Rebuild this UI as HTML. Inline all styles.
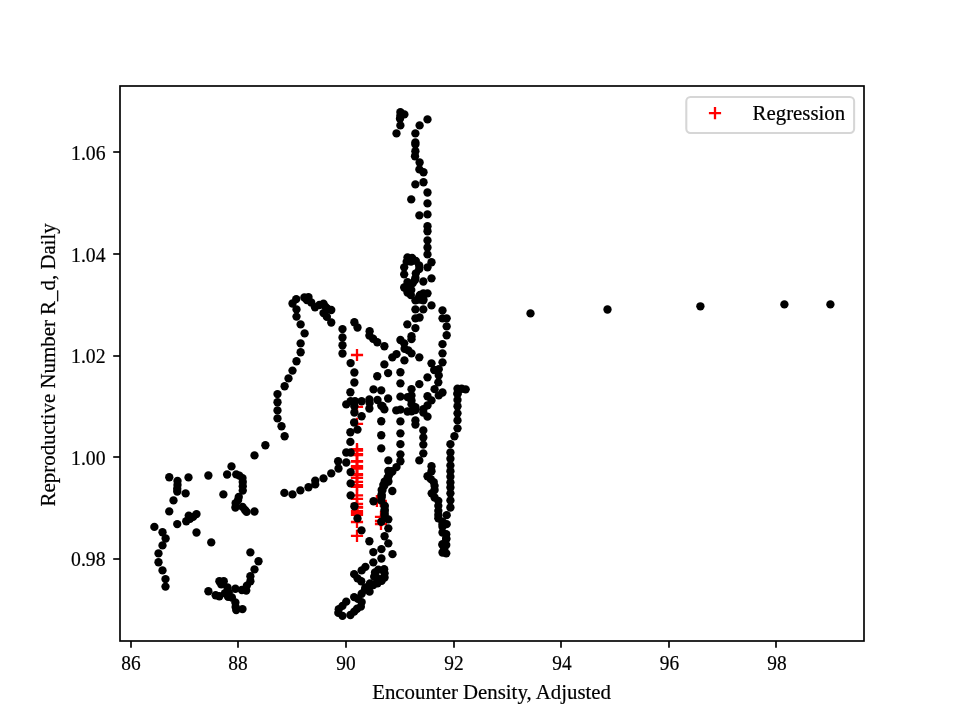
<!DOCTYPE html>
<html lang="en"><head><meta charset="utf-8"><title>Regression</title>
<style>
html,body{margin:0;padding:0;background:#fff;}
body{width:960px;height:720px;overflow:hidden;}
svg{display:block;}
text{font-family:"Liberation Serif","DejaVu Serif",serif;font-size:20.83px;fill:#000;stroke:#000;stroke-width:0.2px;}
</style></head><body>
<svg width="960" height="720" viewBox="0 0 960 720">
<rect x="0" y="0" width="960" height="720" fill="#fff"/>

<g id="reg" stroke="#f00" stroke-width="2.3" fill="none">
<path d="M350.90 355.00h12.2M357.00 348.90v12.2"/>
<path d="M350.90 406.90h12.2M357.00 400.80v12.2"/>
<path d="M350.90 423.90h12.2M357.00 417.80v12.2"/>
<path d="M350.90 449.10h12.2M357.00 443.00v12.2"/>
<path d="M350.90 450.70h12.2M357.00 444.60v12.2"/>
<path d="M350.90 454.20h12.2M357.00 448.10v12.2"/>
<path d="M350.90 455.00h12.2M357.00 448.90v12.2"/>
<path d="M350.90 461.10h12.2M357.00 455.00v12.2"/>
<path d="M350.90 461.70h12.2M357.00 455.60v12.2"/>
<path d="M350.90 466.05h12.2M357.00 459.95v12.2"/>
<path d="M350.90 467.40h12.2M357.00 461.30v12.2"/>
<path d="M350.90 468.70h12.2M357.00 462.60v12.2"/>
<path d="M350.90 474.10h12.2M357.00 468.00v12.2"/>
<path d="M350.90 475.20h12.2M357.00 469.10v12.2"/>
<path d="M350.90 477.90h12.2M357.00 471.80v12.2"/>
<path d="M350.90 481.90h12.2M357.00 475.80v12.2"/>
<path d="M350.90 485.10h12.2M357.00 479.00v12.2"/>
<path d="M350.90 486.80h12.2M357.00 480.70v12.2"/>
<path d="M350.90 495.30h12.2M357.00 489.20v12.2"/>
<path d="M350.90 498.90h12.2M357.00 492.80v12.2"/>
<path d="M350.90 503.85h12.2M357.00 497.75v12.2"/>
<path d="M350.90 507.00h12.2M357.00 500.90v12.2"/>
<path d="M350.90 507.70h12.2M357.00 501.60v12.2"/>
<path d="M350.90 511.05h12.2M357.00 504.95v12.2"/>
<path d="M350.90 513.00h12.2M357.00 506.90v12.2"/>
<path d="M350.90 514.90h12.2M357.00 508.80v12.2"/>
<path d="M350.90 522.00h12.2M357.00 515.90v12.2"/>
<path d="M350.90 535.90h12.2M357.00 529.80v12.2"/>
<path d="M370.80 501.00h12.2M376.90 494.90v12.2"/>
<path d="M374.70 501.00h12.2M380.80 494.90v12.2"/>
<path d="M374.90 516.90h12.2M381.00 510.80v12.2"/>
<path d="M374.90 521.00h12.2M381.00 514.90v12.2"/>
<path d="M374.90 524.00h12.2M381.00 517.90v12.2"/>
</g>
<g id="pts" fill="#000">
<circle cx="265.38" cy="445.25" r="4.17"/>
<circle cx="254.50" cy="455.38" r="4.17"/>
<circle cx="231.50" cy="466.38" r="4.17"/>
<circle cx="227.12" cy="474.50" r="4.17"/>
<circle cx="208.38" cy="475.50" r="4.17"/>
<circle cx="169.25" cy="477.25" r="4.17"/>
<circle cx="188.50" cy="477.38" r="4.17"/>
<circle cx="177.50" cy="481.00" r="4.17"/>
<circle cx="177.50" cy="485.00" r="4.17"/>
<circle cx="177.25" cy="488.75" r="4.17"/>
<circle cx="177.25" cy="491.50" r="4.17"/>
<circle cx="185.62" cy="493.38" r="4.17"/>
<circle cx="173.50" cy="500.38" r="4.17"/>
<circle cx="169.25" cy="511.38" r="4.17"/>
<circle cx="223.38" cy="494.38" r="4.17"/>
<circle cx="236.25" cy="474.38" r="4.17"/>
<circle cx="239.38" cy="475.62" r="4.17"/>
<circle cx="242.50" cy="478.12" r="4.17"/>
<circle cx="242.75" cy="481.88" r="4.17"/>
<circle cx="242.75" cy="486.25" r="4.17"/>
<circle cx="242.75" cy="490.62" r="4.17"/>
<circle cx="238.75" cy="496.88" r="4.17"/>
<circle cx="238.12" cy="500.00" r="4.17"/>
<circle cx="235.62" cy="503.12" r="4.17"/>
<circle cx="235.38" cy="507.50" r="4.17"/>
<circle cx="242.50" cy="506.88" r="4.17"/>
<circle cx="245.00" cy="510.00" r="4.17"/>
<circle cx="246.62" cy="511.88" r="4.17"/>
<circle cx="254.50" cy="511.50" r="4.17"/>
<circle cx="196.50" cy="514.12" r="4.17"/>
<circle cx="193.12" cy="516.88" r="4.17"/>
<circle cx="188.75" cy="515.62" r="4.17"/>
<circle cx="190.00" cy="518.75" r="4.17"/>
<circle cx="186.25" cy="521.25" r="4.17"/>
<circle cx="177.25" cy="524.12" r="4.17"/>
<circle cx="154.38" cy="526.88" r="4.17"/>
<circle cx="162.50" cy="532.25" r="4.17"/>
<circle cx="165.62" cy="538.50" r="4.17"/>
<circle cx="162.50" cy="545.38" r="4.17"/>
<circle cx="158.50" cy="553.38" r="4.17"/>
<circle cx="158.50" cy="562.25" r="4.17"/>
<circle cx="162.50" cy="570.38" r="4.17"/>
<circle cx="165.50" cy="579.12" r="4.17"/>
<circle cx="165.50" cy="586.62" r="4.17"/>
<circle cx="196.50" cy="532.50" r="4.17"/>
<circle cx="211.25" cy="542.38" r="4.17"/>
<circle cx="250.38" cy="552.38" r="4.17"/>
<circle cx="258.50" cy="561.25" r="4.17"/>
<circle cx="254.50" cy="569.38" r="4.17"/>
<circle cx="250.38" cy="576.25" r="4.17"/>
<circle cx="250.38" cy="581.25" r="4.17"/>
<circle cx="246.88" cy="585.62" r="4.17"/>
<circle cx="246.25" cy="590.62" r="4.17"/>
<circle cx="241.88" cy="590.00" r="4.17"/>
<circle cx="235.38" cy="588.75" r="4.17"/>
<circle cx="219.38" cy="581.25" r="4.17"/>
<circle cx="223.75" cy="581.25" r="4.17"/>
<circle cx="221.25" cy="584.38" r="4.17"/>
<circle cx="227.50" cy="587.50" r="4.17"/>
<circle cx="208.38" cy="591.25" r="4.17"/>
<circle cx="215.62" cy="595.25" r="4.17"/>
<circle cx="219.38" cy="596.25" r="4.17"/>
<circle cx="225.00" cy="593.12" r="4.17"/>
<circle cx="228.75" cy="592.50" r="4.17"/>
<circle cx="228.12" cy="596.88" r="4.17"/>
<circle cx="231.88" cy="597.50" r="4.17"/>
<circle cx="235.38" cy="602.50" r="4.17"/>
<circle cx="235.62" cy="606.88" r="4.17"/>
<circle cx="236.25" cy="610.00" r="4.17"/>
<circle cx="242.50" cy="609.12" r="4.17"/>
<circle cx="292.50" cy="303.50" r="4.17"/>
<circle cx="296.25" cy="299.12" r="4.17"/>
<circle cx="296.50" cy="309.38" r="4.17"/>
<circle cx="296.50" cy="316.62" r="4.17"/>
<circle cx="300.62" cy="324.38" r="4.17"/>
<circle cx="304.62" cy="333.38" r="4.17"/>
<circle cx="300.62" cy="343.38" r="4.17"/>
<circle cx="300.62" cy="352.25" r="4.17"/>
<circle cx="296.50" cy="361.25" r="4.17"/>
<circle cx="292.50" cy="370.62" r="4.17"/>
<circle cx="304.38" cy="297.50" r="4.17"/>
<circle cx="308.50" cy="297.12" r="4.17"/>
<circle cx="306.88" cy="300.00" r="4.17"/>
<circle cx="311.25" cy="302.50" r="4.17"/>
<circle cx="315.00" cy="307.25" r="4.17"/>
<circle cx="319.38" cy="305.00" r="4.17"/>
<circle cx="323.50" cy="303.75" r="4.17"/>
<circle cx="325.62" cy="306.88" r="4.17"/>
<circle cx="327.75" cy="309.00" r="4.17"/>
<circle cx="331.25" cy="310.00" r="4.17"/>
<circle cx="323.50" cy="313.12" r="4.17"/>
<circle cx="326.88" cy="316.88" r="4.17"/>
<circle cx="331.25" cy="322.50" r="4.17"/>
<circle cx="342.50" cy="329.12" r="4.17"/>
<circle cx="342.50" cy="337.50" r="4.17"/>
<circle cx="342.50" cy="345.25" r="4.17"/>
<circle cx="342.50" cy="353.50" r="4.17"/>
<circle cx="354.38" cy="322.25" r="4.17"/>
<circle cx="357.50" cy="327.50" r="4.17"/>
<circle cx="369.62" cy="331.25" r="4.17"/>
<circle cx="369.38" cy="335.62" r="4.17"/>
<circle cx="373.12" cy="338.75" r="4.17"/>
<circle cx="377.25" cy="342.25" r="4.17"/>
<circle cx="384.38" cy="346.25" r="4.17"/>
<circle cx="350.62" cy="363.12" r="4.17"/>
<circle cx="384.38" cy="364.38" r="4.17"/>
<circle cx="288.50" cy="378.38" r="4.17"/>
<circle cx="284.62" cy="386.25" r="4.17"/>
<circle cx="277.50" cy="394.12" r="4.17"/>
<circle cx="277.50" cy="402.25" r="4.17"/>
<circle cx="277.50" cy="410.38" r="4.17"/>
<circle cx="277.50" cy="418.38" r="4.17"/>
<circle cx="281.50" cy="426.25" r="4.17"/>
<circle cx="284.62" cy="436.25" r="4.17"/>
<circle cx="354.38" cy="372.50" r="4.17"/>
<circle cx="354.38" cy="382.50" r="4.17"/>
<circle cx="350.38" cy="392.25" r="4.17"/>
<circle cx="346.25" cy="404.38" r="4.17"/>
<circle cx="350.62" cy="401.25" r="4.17"/>
<circle cx="355.00" cy="401.25" r="4.17"/>
<circle cx="361.62" cy="401.25" r="4.17"/>
<circle cx="369.38" cy="399.38" r="4.17"/>
<circle cx="369.62" cy="403.12" r="4.17"/>
<circle cx="369.38" cy="408.50" r="4.17"/>
<circle cx="354.38" cy="406.25" r="4.17"/>
<circle cx="354.38" cy="412.50" r="4.17"/>
<circle cx="361.62" cy="416.25" r="4.17"/>
<circle cx="354.12" cy="422.50" r="4.17"/>
<circle cx="357.50" cy="429.62" r="4.17"/>
<circle cx="350.38" cy="432.25" r="4.17"/>
<circle cx="350.38" cy="441.88" r="4.17"/>
<circle cx="346.25" cy="452.50" r="4.17"/>
<circle cx="350.62" cy="452.50" r="4.17"/>
<circle cx="377.25" cy="376.25" r="4.17"/>
<circle cx="388.12" cy="373.12" r="4.17"/>
<circle cx="373.50" cy="389.38" r="4.17"/>
<circle cx="381.25" cy="390.38" r="4.17"/>
<circle cx="377.50" cy="400.00" r="4.17"/>
<circle cx="388.12" cy="398.50" r="4.17"/>
<circle cx="381.25" cy="405.62" r="4.17"/>
<circle cx="384.38" cy="409.38" r="4.17"/>
<circle cx="381.25" cy="421.25" r="4.17"/>
<circle cx="381.25" cy="435.25" r="4.17"/>
<circle cx="381.25" cy="448.38" r="4.17"/>
<circle cx="284.38" cy="492.88" r="4.17"/>
<circle cx="292.50" cy="494.38" r="4.17"/>
<circle cx="300.38" cy="490.38" r="4.17"/>
<circle cx="308.50" cy="487.25" r="4.17"/>
<circle cx="315.25" cy="484.38" r="4.17"/>
<circle cx="315.25" cy="480.62" r="4.17"/>
<circle cx="323.50" cy="478.38" r="4.17"/>
<circle cx="331.25" cy="473.38" r="4.17"/>
<circle cx="338.50" cy="468.50" r="4.17"/>
<circle cx="338.12" cy="461.25" r="4.17"/>
<circle cx="346.25" cy="462.50" r="4.17"/>
<circle cx="350.62" cy="472.12" r="4.17"/>
<circle cx="350.62" cy="483.38" r="4.17"/>
<circle cx="350.62" cy="495.38" r="4.17"/>
<circle cx="354.38" cy="506.25" r="4.17"/>
<circle cx="357.50" cy="518.38" r="4.17"/>
<circle cx="361.50" cy="530.38" r="4.17"/>
<circle cx="369.38" cy="541.25" r="4.17"/>
<circle cx="373.50" cy="501.25" r="4.17"/>
<circle cx="373.33" cy="552.08" r="4.17"/>
<circle cx="381.42" cy="549.17" r="4.17"/>
<circle cx="392.50" cy="554.17" r="4.17"/>
<circle cx="381.42" cy="558.50" r="4.17"/>
<circle cx="373.33" cy="562.33" r="4.17"/>
<circle cx="365.42" cy="566.83" r="4.17"/>
<circle cx="361.67" cy="570.42" r="4.17"/>
<circle cx="354.17" cy="574.17" r="4.17"/>
<circle cx="357.50" cy="578.33" r="4.17"/>
<circle cx="361.25" cy="581.25" r="4.17"/>
<circle cx="375.00" cy="572.50" r="4.17"/>
<circle cx="378.33" cy="569.58" r="4.17"/>
<circle cx="384.17" cy="569.17" r="4.17"/>
<circle cx="384.58" cy="573.33" r="4.17"/>
<circle cx="384.58" cy="577.50" r="4.17"/>
<circle cx="381.67" cy="580.83" r="4.17"/>
<circle cx="377.50" cy="583.33" r="4.17"/>
<circle cx="373.33" cy="585.00" r="4.17"/>
<circle cx="370.00" cy="583.33" r="4.17"/>
<circle cx="374.17" cy="576.67" r="4.17"/>
<circle cx="368.33" cy="588.33" r="4.17"/>
<circle cx="365.42" cy="587.50" r="4.17"/>
<circle cx="369.58" cy="591.67" r="4.17"/>
<circle cx="361.67" cy="593.75" r="4.17"/>
<circle cx="354.17" cy="597.08" r="4.17"/>
<circle cx="365.00" cy="589.58" r="4.17"/>
<circle cx="361.67" cy="602.08" r="4.17"/>
<circle cx="360.83" cy="606.67" r="4.17"/>
<circle cx="357.08" cy="608.75" r="4.17"/>
<circle cx="354.17" cy="611.67" r="4.17"/>
<circle cx="350.42" cy="615.00" r="4.17"/>
<circle cx="346.25" cy="601.67" r="4.17"/>
<circle cx="342.50" cy="605.83" r="4.17"/>
<circle cx="338.75" cy="609.17" r="4.17"/>
<circle cx="338.33" cy="612.92" r="4.17"/>
<circle cx="342.50" cy="615.83" r="4.17"/>
<circle cx="400.38" cy="112.12" r="4.17"/>
<circle cx="404.38" cy="114.38" r="4.17"/>
<circle cx="400.38" cy="115.62" r="4.17"/>
<circle cx="400.00" cy="118.75" r="4.17"/>
<circle cx="400.38" cy="125.38" r="4.17"/>
<circle cx="396.50" cy="133.38" r="4.17"/>
<circle cx="427.50" cy="119.38" r="4.17"/>
<circle cx="419.62" cy="125.38" r="4.17"/>
<circle cx="415.38" cy="133.38" r="4.17"/>
<circle cx="415.38" cy="142.50" r="4.17"/>
<circle cx="415.38" cy="144.38" r="4.17"/>
<circle cx="415.38" cy="151.25" r="4.17"/>
<circle cx="415.00" cy="156.25" r="4.17"/>
<circle cx="419.62" cy="162.50" r="4.17"/>
<circle cx="419.38" cy="169.38" r="4.17"/>
<circle cx="423.50" cy="172.25" r="4.17"/>
<circle cx="423.50" cy="182.25" r="4.17"/>
<circle cx="415.38" cy="184.38" r="4.17"/>
<circle cx="427.50" cy="192.50" r="4.17"/>
<circle cx="411.25" cy="199.38" r="4.17"/>
<circle cx="427.50" cy="203.38" r="4.17"/>
<circle cx="419.38" cy="215.38" r="4.17"/>
<circle cx="427.50" cy="214.38" r="4.17"/>
<circle cx="427.50" cy="226.25" r="4.17"/>
<circle cx="427.50" cy="231.25" r="4.17"/>
<circle cx="427.50" cy="240.38" r="4.17"/>
<circle cx="427.50" cy="247.50" r="4.17"/>
<circle cx="427.50" cy="254.38" r="4.17"/>
<circle cx="431.50" cy="262.25" r="4.17"/>
<circle cx="427.50" cy="267.33" r="4.17"/>
<circle cx="407.50" cy="257.33" r="4.17"/>
<circle cx="412.08" cy="257.92" r="4.17"/>
<circle cx="415.83" cy="260.83" r="4.17"/>
<circle cx="419.17" cy="265.42" r="4.17"/>
<circle cx="419.17" cy="269.17" r="4.17"/>
<circle cx="415.83" cy="273.33" r="4.17"/>
<circle cx="415.42" cy="277.92" r="4.17"/>
<circle cx="415.00" cy="280.00" r="4.17"/>
<circle cx="406.67" cy="261.67" r="4.17"/>
<circle cx="404.17" cy="267.33" r="4.17"/>
<circle cx="404.17" cy="274.33" r="4.17"/>
<circle cx="423.33" cy="281.50" r="4.17"/>
<circle cx="431.50" cy="278.33" r="4.17"/>
<circle cx="407.50" cy="282.08" r="4.17"/>
<circle cx="404.17" cy="287.50" r="4.17"/>
<circle cx="407.92" cy="286.67" r="4.17"/>
<circle cx="407.50" cy="292.50" r="4.17"/>
<circle cx="410.83" cy="295.00" r="4.17"/>
<circle cx="411.25" cy="290.00" r="4.17"/>
<circle cx="420.00" cy="295.00" r="4.17"/>
<circle cx="423.33" cy="293.33" r="4.17"/>
<circle cx="427.50" cy="293.33" r="4.17"/>
<circle cx="423.33" cy="299.17" r="4.17"/>
<circle cx="415.42" cy="300.42" r="4.17"/>
<circle cx="423.33" cy="300.42" r="4.17"/>
<circle cx="419.17" cy="296.67" r="4.17"/>
<circle cx="405.00" cy="287.50" r="4.17"/>
<circle cx="415.42" cy="309.42" r="4.17"/>
<circle cx="423.33" cy="309.42" r="4.17"/>
<circle cx="431.50" cy="305.42" r="4.17"/>
<circle cx="415.42" cy="318.33" r="4.17"/>
<circle cx="419.58" cy="317.50" r="4.17"/>
<circle cx="407.33" cy="324.33" r="4.17"/>
<circle cx="415.42" cy="328.08" r="4.17"/>
<circle cx="411.50" cy="336.25" r="4.17"/>
<circle cx="411.50" cy="339.17" r="4.17"/>
<circle cx="400.42" cy="340.00" r="4.17"/>
<circle cx="404.17" cy="343.33" r="4.17"/>
<circle cx="442.50" cy="310.42" r="4.17"/>
<circle cx="442.50" cy="318.33" r="4.17"/>
<circle cx="446.67" cy="318.33" r="4.17"/>
<circle cx="446.67" cy="326.42" r="4.17"/>
<circle cx="446.67" cy="335.25" r="4.17"/>
<circle cx="442.50" cy="344.17" r="4.17"/>
<circle cx="404.58" cy="348.75" r="4.17"/>
<circle cx="408.33" cy="350.42" r="4.17"/>
<circle cx="411.50" cy="353.33" r="4.17"/>
<circle cx="419.33" cy="357.33" r="4.17"/>
<circle cx="396.50" cy="354.17" r="4.17"/>
<circle cx="392.33" cy="357.33" r="4.17"/>
<circle cx="404.42" cy="360.42" r="4.17"/>
<circle cx="400.42" cy="372.25" r="4.17"/>
<circle cx="400.42" cy="383.33" r="4.17"/>
<circle cx="411.50" cy="389.17" r="4.17"/>
<circle cx="419.33" cy="384.17" r="4.17"/>
<circle cx="427.50" cy="377.33" r="4.17"/>
<circle cx="431.50" cy="363.33" r="4.17"/>
<circle cx="442.50" cy="362.33" r="4.17"/>
<circle cx="442.50" cy="353.33" r="4.17"/>
<circle cx="434.17" cy="370.00" r="4.17"/>
<circle cx="438.75" cy="369.17" r="4.17"/>
<circle cx="438.75" cy="375.42" r="4.17"/>
<circle cx="438.33" cy="382.33" r="4.17"/>
<circle cx="434.58" cy="389.17" r="4.17"/>
<circle cx="442.50" cy="392.50" r="4.17"/>
<circle cx="382.50" cy="406.25" r="4.17"/>
<circle cx="400.42" cy="396.67" r="4.17"/>
<circle cx="407.50" cy="397.08" r="4.17"/>
<circle cx="411.50" cy="395.42" r="4.17"/>
<circle cx="411.50" cy="400.42" r="4.17"/>
<circle cx="411.50" cy="404.17" r="4.17"/>
<circle cx="415.42" cy="407.08" r="4.17"/>
<circle cx="415.42" cy="410.00" r="4.17"/>
<circle cx="411.50" cy="411.25" r="4.17"/>
<circle cx="407.50" cy="411.50" r="4.17"/>
<circle cx="400.42" cy="409.58" r="4.17"/>
<circle cx="396.25" cy="410.42" r="4.17"/>
<circle cx="438.75" cy="395.42" r="4.17"/>
<circle cx="427.50" cy="396.25" r="4.17"/>
<circle cx="431.50" cy="400.42" r="4.17"/>
<circle cx="427.50" cy="405.42" r="4.17"/>
<circle cx="423.33" cy="409.17" r="4.17"/>
<circle cx="423.33" cy="412.50" r="4.17"/>
<circle cx="427.50" cy="416.67" r="4.17"/>
<circle cx="457.50" cy="388.75" r="4.17"/>
<circle cx="457.50" cy="393.33" r="4.17"/>
<circle cx="457.50" cy="400.00" r="4.17"/>
<circle cx="457.50" cy="406.25" r="4.17"/>
<circle cx="457.50" cy="413.33" r="4.17"/>
<circle cx="457.50" cy="420.42" r="4.17"/>
<circle cx="457.50" cy="428.33" r="4.17"/>
<circle cx="454.42" cy="436.25" r="4.17"/>
<circle cx="450.42" cy="444.17" r="4.17"/>
<circle cx="400.42" cy="421.42" r="4.17"/>
<circle cx="400.42" cy="433.33" r="4.17"/>
<circle cx="400.42" cy="444.17" r="4.17"/>
<circle cx="415.42" cy="420.42" r="4.17"/>
<circle cx="415.42" cy="424.58" r="4.17"/>
<circle cx="423.33" cy="430.42" r="4.17"/>
<circle cx="423.33" cy="437.50" r="4.17"/>
<circle cx="423.33" cy="444.58" r="4.17"/>
<circle cx="400.42" cy="454.33" r="4.17"/>
<circle cx="400.42" cy="461.25" r="4.17"/>
<circle cx="396.50" cy="467.08" r="4.17"/>
<circle cx="392.33" cy="471.67" r="4.17"/>
<circle cx="388.33" cy="471.00" r="4.17"/>
<circle cx="388.33" cy="460.42" r="4.17"/>
<circle cx="388.33" cy="476.67" r="4.17"/>
<circle cx="386.67" cy="481.67" r="4.17"/>
<circle cx="383.33" cy="485.00" r="4.17"/>
<circle cx="382.50" cy="490.00" r="4.17"/>
<circle cx="392.33" cy="491.00" r="4.17"/>
<circle cx="423.33" cy="453.33" r="4.17"/>
<circle cx="419.33" cy="460.42" r="4.17"/>
<circle cx="431.50" cy="466.25" r="4.17"/>
<circle cx="431.50" cy="471.25" r="4.17"/>
<circle cx="427.50" cy="476.25" r="4.17"/>
<circle cx="430.83" cy="479.17" r="4.17"/>
<circle cx="433.75" cy="482.08" r="4.17"/>
<circle cx="434.58" cy="485.83" r="4.17"/>
<circle cx="434.58" cy="490.00" r="4.17"/>
<circle cx="431.67" cy="493.33" r="4.17"/>
<circle cx="450.42" cy="452.50" r="4.17"/>
<circle cx="450.42" cy="458.75" r="4.17"/>
<circle cx="450.42" cy="465.42" r="4.17"/>
<circle cx="450.42" cy="471.25" r="4.17"/>
<circle cx="450.42" cy="476.67" r="4.17"/>
<circle cx="450.42" cy="482.50" r="4.17"/>
<circle cx="450.42" cy="487.50" r="4.17"/>
<circle cx="450.42" cy="493.33" r="4.17"/>
<circle cx="381.67" cy="490.00" r="4.17"/>
<circle cx="381.67" cy="495.83" r="4.17"/>
<circle cx="384.58" cy="506.67" r="4.17"/>
<circle cx="384.58" cy="510.83" r="4.17"/>
<circle cx="384.58" cy="515.83" r="4.17"/>
<circle cx="388.33" cy="519.33" r="4.17"/>
<circle cx="381.25" cy="521.75" r="4.17"/>
<circle cx="388.33" cy="528.33" r="4.17"/>
<circle cx="384.58" cy="536.25" r="4.17"/>
<circle cx="388.33" cy="543.33" r="4.17"/>
<circle cx="434.58" cy="497.50" r="4.17"/>
<circle cx="438.33" cy="500.83" r="4.17"/>
<circle cx="438.33" cy="505.83" r="4.17"/>
<circle cx="438.33" cy="510.83" r="4.17"/>
<circle cx="438.33" cy="515.00" r="4.17"/>
<circle cx="438.33" cy="518.33" r="4.17"/>
<circle cx="442.50" cy="521.67" r="4.17"/>
<circle cx="442.50" cy="526.67" r="4.17"/>
<circle cx="442.50" cy="532.50" r="4.17"/>
<circle cx="446.25" cy="534.17" r="4.17"/>
<circle cx="446.25" cy="539.17" r="4.17"/>
<circle cx="442.50" cy="544.17" r="4.17"/>
<circle cx="446.67" cy="515.17" r="4.17"/>
<circle cx="446.67" cy="524.17" r="4.17"/>
<circle cx="450.42" cy="500.42" r="4.17"/>
<circle cx="450.42" cy="507.50" r="4.17"/>
<circle cx="442.50" cy="524.17" r="4.17"/>
<circle cx="446.25" cy="538.33" r="4.17"/>
<circle cx="442.50" cy="545.00" r="4.17"/>
<circle cx="446.25" cy="545.00" r="4.17"/>
<circle cx="442.50" cy="552.50" r="4.17"/>
<circle cx="446.25" cy="553.33" r="4.17"/>
<circle cx="444.17" cy="549.17" r="4.17"/>
<circle cx="461.67" cy="388.75" r="4.17"/>
<circle cx="465.67" cy="389.33" r="4.17"/>
<circle cx="457.50" cy="394.17" r="4.17"/>
<circle cx="530.50" cy="313.40" r="4.17"/>
<circle cx="607.50" cy="309.50" r="4.17"/>
<circle cx="700.40" cy="306.30" r="4.17"/>
<circle cx="784.40" cy="304.40" r="4.17"/>
<circle cx="830.40" cy="304.40" r="4.17"/>
<circle cx="391.25" cy="471.25" r="4.17"/>
<circle cx="389.38" cy="474.38" r="4.17"/>
<circle cx="387.50" cy="478.12" r="4.17"/>
<circle cx="388.44" cy="481.56" r="4.17"/>
<circle cx="384.69" cy="481.56" r="4.17"/>
<circle cx="384.38" cy="485.62" r="4.17"/>
<circle cx="381.56" cy="494.38" r="4.17"/>
<circle cx="381.56" cy="497.50" r="4.17"/>
<circle cx="381.25" cy="500.62" r="4.17"/>
<circle cx="384.69" cy="505.62" r="4.17"/>
<circle cx="384.69" cy="510.00" r="4.17"/>
<circle cx="384.69" cy="513.75" r="4.17"/>
<circle cx="376.08" cy="577.25" r="4.17"/>
<circle cx="380.83" cy="579.17" r="4.17"/>
<circle cx="357.92" cy="598.75" r="4.17"/>
<circle cx="411.00" cy="261.50" r="4.17"/>
<circle cx="412.81" cy="283.12" r="4.17"/>
<circle cx="419.38" cy="299.69" r="4.17"/>
</g>
<rect x="120.00" y="86.00" width="744.00" height="555.00" fill="none" stroke="#000" stroke-width="1.67" stroke-linejoin="miter"/>
<g stroke="#000" stroke-width="1.67">
<line x1="131.00" y1="641.00" x2="131.00" y2="647.80"/>
<line x1="238.00" y1="641.00" x2="238.00" y2="647.80"/>
<line x1="346.00" y1="641.00" x2="346.00" y2="647.80"/>
<line x1="454.00" y1="641.00" x2="454.00" y2="647.80"/>
<line x1="561.00" y1="641.00" x2="561.00" y2="647.80"/>
<line x1="669.00" y1="641.00" x2="669.00" y2="647.80"/>
<line x1="776.00" y1="641.00" x2="776.00" y2="647.80"/>
<line x1="113.20" y1="152.00" x2="120.00" y2="152.00"/>
<line x1="113.20" y1="254.00" x2="120.00" y2="254.00"/>
<line x1="113.20" y1="356.00" x2="120.00" y2="356.00"/>
<line x1="113.20" y1="457.00" x2="120.00" y2="457.00"/>
<line x1="113.20" y1="559.00" x2="120.00" y2="559.00"/>
</g>
<g text-anchor="middle">
<text transform="translate(131.00,669.70) scale(0.930,1)">86</text>
<text transform="translate(238.00,669.70) scale(0.930,1)">88</text>
<text transform="translate(346.00,669.70) scale(0.930,1)">90</text>
<text transform="translate(454.00,669.70) scale(0.930,1)">92</text>
<text transform="translate(561.90,669.70) scale(0.930,1)">94</text>
<text transform="translate(669.40,669.70) scale(0.930,1)">96</text>
<text transform="translate(776.90,669.70) scale(0.930,1)">98</text>
</g>
<g text-anchor="end">
<text transform="translate(105.50,160.10) scale(0.945,1)">1.06</text>
<text transform="translate(105.50,262.00) scale(0.945,1)">1.04</text>
<text transform="translate(105.50,363.10) scale(0.945,1)">1.02</text>
<text transform="translate(105.50,465.00) scale(0.945,1)">1.00</text>
<text transform="translate(105.50,566.00) scale(0.945,1)">0.98</text>
</g>
<text x="491.6" y="699" text-anchor="middle">Encounter Density, Adjusted</text>
<text transform="translate(55.2,364.8) rotate(-90) scale(1.0035,1)" text-anchor="middle">Reproductive Number R_d, Daily</text>
<rect x="686.3" y="97" width="167.8" height="36" rx="4.2" ry="4.2" fill="#fff" fill-opacity="0.8" stroke="#ccc" stroke-opacity="0.8" stroke-width="2.08"/>
<path d="M708.9 113.2h12.2M715 107.1v12.2" stroke="#f00" stroke-width="2.3" fill="none"/>
<text x="752.6" y="119.6">Regression</text>
</svg>
</body></html>
